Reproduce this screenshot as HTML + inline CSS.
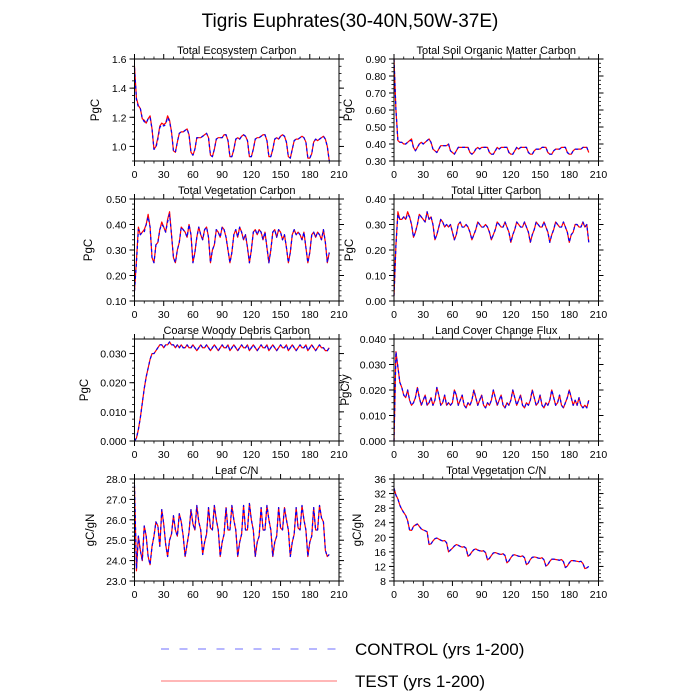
<!DOCTYPE html>
<html><head><meta charset="utf-8">
<style>
html,body{margin:0;padding:0;background:#fff;}
svg{display:block;font-family:"Liberation Sans",Arial,sans-serif;}
</style></head>
<body>
<svg id="chart" width="700" height="700" viewBox="0 0 700 700">
<text x="350" y="27" text-anchor="middle" font-size="19">Tigris Euphrates(30-40N,50W-37E)</text>
<g id="panels"></g>
<g>
<line x1="161" y1="649" x2="337" y2="649" stroke="#6f6fff" stroke-width="1" stroke-dasharray="8,10.5"/>
<text x="355" y="655" font-size="17">CONTROL (yrs 1-200)</text>
<line x1="161" y1="681" x2="337" y2="681" stroke="#ff6f6f" stroke-width="1"/>
<text x="355" y="687" font-size="17">TEST (yrs 1-200)</text>
</g>
</svg>
<script>
// years sampled every 2 years, 0..200
const xTicks = [0,30,60,90,120,150,180,210];

const tecControl = [1.54,1.32,1.27,1.26,1.19,1.17,1.16,1.19,1.20,1.12,
0.98,0.99,1.05,1.13,1.15,1.14,1.15,1.20,1.17,1.10,
0.97,0.96,1.03,1.09,1.10,1.10,1.11,1.12,1.08,0.96,
0.94,0.98,1.06,1.06,1.06,1.07,1.08,1.09,1.06,0.94,
0.93,0.98,1.05,1.06,1.06,1.06,1.08,1.08,1.04,0.93,
0.93,0.98,1.05,1.06,1.05,1.07,1.08,1.07,1.04,0.93,
0.93,0.98,1.05,1.06,1.06,1.07,1.08,1.08,1.04,0.93,
0.93,0.98,1.05,1.06,1.05,1.07,1.08,1.07,1.03,0.93,
0.92,0.98,1.04,1.05,1.05,1.06,1.07,1.06,1.03,0.92,
0.92,0.95,1.03,1.05,1.04,1.05,1.06,1.07,1.05,1.00,0.90];
const tecTest = [1.55,1.33,1.28,1.26,1.19,1.18,1.16,1.19,1.21,1.12,
0.98,1.00,1.06,1.14,1.16,1.15,1.16,1.21,1.18,1.10,
0.97,0.96,1.03,1.09,1.10,1.10,1.11,1.12,1.08,0.96,
0.94,0.98,1.06,1.06,1.06,1.07,1.08,1.09,1.06,0.94,
0.93,0.98,1.05,1.06,1.06,1.06,1.08,1.08,1.04,0.93,
0.93,0.98,1.05,1.06,1.05,1.07,1.08,1.07,1.04,0.93,
0.93,0.98,1.05,1.06,1.06,1.07,1.08,1.08,1.04,0.93,
0.93,0.98,1.05,1.06,1.05,1.07,1.08,1.07,1.03,0.93,
0.92,0.98,1.04,1.05,1.05,1.06,1.07,1.06,1.03,0.92,
0.92,0.95,1.03,1.05,1.04,1.05,1.06,1.07,1.05,1.00,0.90];

const somControl = [0.90,0.60,0.42,0.41,0.41,0.40,0.40,0.41,0.42,0.42,
0.38,0.36,0.38,0.40,0.41,0.40,0.41,0.42,0.43,0.41,
0.37,0.36,0.35,0.37,0.39,0.39,0.39,0.39,0.40,0.36,
0.35,0.34,0.36,0.38,0.38,0.38,0.38,0.38,0.38,0.35,
0.34,0.35,0.37,0.38,0.37,0.38,0.38,0.38,0.38,0.35,
0.34,0.34,0.36,0.38,0.37,0.38,0.38,0.38,0.38,0.35,
0.34,0.34,0.36,0.38,0.37,0.38,0.38,0.38,0.38,0.35,
0.34,0.34,0.36,0.37,0.37,0.37,0.38,0.38,0.38,0.35,
0.34,0.34,0.36,0.37,0.37,0.37,0.38,0.38,0.38,0.35,
0.34,0.34,0.36,0.37,0.37,0.37,0.37,0.38,0.38,0.38,0.35];
const somTest = [0.90,0.60,0.42,0.41,0.41,0.40,0.40,0.41,0.42,0.43,
0.38,0.36,0.38,0.40,0.41,0.40,0.41,0.42,0.43,0.41,
0.37,0.36,0.35,0.37,0.39,0.39,0.39,0.39,0.40,0.36,
0.35,0.34,0.36,0.38,0.38,0.38,0.38,0.38,0.38,0.35,
0.34,0.35,0.37,0.38,0.37,0.38,0.38,0.38,0.38,0.35,
0.34,0.34,0.36,0.38,0.37,0.38,0.38,0.38,0.38,0.35,
0.34,0.34,0.36,0.38,0.37,0.38,0.38,0.38,0.38,0.35,
0.34,0.34,0.36,0.37,0.37,0.37,0.38,0.38,0.38,0.35,
0.34,0.34,0.36,0.37,0.37,0.37,0.38,0.38,0.38,0.35,
0.34,0.34,0.36,0.37,0.37,0.37,0.37,0.38,0.38,0.38,0.35];

const vegControl = [0.14,0.25,0.38,0.36,0.37,0.37,0.40,0.43,0.39,0.27,
0.25,0.32,0.33,0.38,0.40,0.39,0.37,0.41,0.44,0.36,
0.27,0.25,0.30,0.33,0.39,0.38,0.37,0.35,0.40,0.36,
0.25,0.29,0.35,0.39,0.36,0.34,0.38,0.39,0.35,0.25,
0.30,0.32,0.38,0.37,0.35,0.39,0.38,0.35,0.30,0.25,
0.29,0.36,0.38,0.35,0.39,0.37,0.34,0.36,0.31,0.25,
0.30,0.37,0.38,0.36,0.38,0.37,0.34,0.37,0.31,0.25,
0.30,0.37,0.38,0.35,0.38,0.37,0.34,0.36,0.31,0.25,
0.29,0.36,0.38,0.36,0.37,0.36,0.34,0.37,0.31,0.25,
0.29,0.36,0.37,0.35,0.37,0.36,0.34,0.38,0.33,0.25,0.29];
const vegTest = [0.14,0.26,0.39,0.36,0.37,0.38,0.40,0.44,0.39,0.27,
0.25,0.32,0.33,0.38,0.41,0.39,0.37,0.42,0.45,0.36,
0.27,0.25,0.30,0.33,0.39,0.38,0.37,0.35,0.40,0.36,
0.25,0.29,0.35,0.39,0.36,0.34,0.38,0.39,0.35,0.25,
0.30,0.32,0.38,0.37,0.35,0.39,0.38,0.35,0.30,0.25,
0.29,0.36,0.38,0.35,0.39,0.37,0.34,0.36,0.31,0.25,
0.30,0.37,0.38,0.36,0.38,0.37,0.34,0.37,0.31,0.25,
0.30,0.37,0.38,0.35,0.38,0.37,0.34,0.36,0.31,0.25,
0.29,0.36,0.38,0.36,0.37,0.36,0.34,0.37,0.31,0.25,
0.29,0.36,0.37,0.35,0.37,0.36,0.34,0.38,0.33,0.25,0.29];

const litControl = [0.02,0.22,0.34,0.32,0.32,0.33,0.32,0.34,0.33,0.30,
0.25,0.27,0.30,0.34,0.33,0.32,0.31,0.35,0.32,0.33,
0.30,0.24,0.26,0.29,0.32,0.31,0.29,0.30,0.29,0.30,
0.27,0.24,0.26,0.30,0.31,0.29,0.29,0.30,0.29,0.27,
0.24,0.26,0.28,0.31,0.30,0.29,0.29,0.30,0.29,0.27,
0.24,0.26,0.28,0.31,0.30,0.29,0.29,0.31,0.29,0.27,
0.23,0.26,0.28,0.31,0.30,0.29,0.29,0.31,0.29,0.27,
0.23,0.26,0.28,0.31,0.30,0.29,0.29,0.31,0.29,0.27,
0.23,0.26,0.28,0.31,0.30,0.29,0.29,0.31,0.29,0.27,
0.23,0.26,0.27,0.30,0.30,0.29,0.29,0.31,0.29,0.30,0.23];
const litTest = [0.02,0.22,0.35,0.32,0.32,0.33,0.32,0.35,0.33,0.30,
0.25,0.27,0.30,0.34,0.33,0.32,0.31,0.35,0.32,0.33,
0.30,0.24,0.26,0.29,0.32,0.31,0.29,0.30,0.29,0.30,
0.27,0.24,0.26,0.30,0.31,0.29,0.29,0.30,0.29,0.27,
0.24,0.26,0.28,0.31,0.30,0.29,0.29,0.30,0.29,0.27,
0.24,0.26,0.28,0.31,0.30,0.29,0.29,0.31,0.29,0.27,
0.23,0.26,0.28,0.31,0.30,0.29,0.29,0.31,0.29,0.27,
0.23,0.26,0.28,0.31,0.30,0.29,0.29,0.31,0.29,0.27,
0.23,0.26,0.28,0.31,0.30,0.29,0.29,0.31,0.29,0.27,
0.23,0.26,0.27,0.30,0.30,0.29,0.29,0.31,0.29,0.30,0.23];

const cwdControl = [0.000,0.001,0.004,0.008,0.013,0.018,0.022,0.025,0.028,0.030,
0.030,0.031,0.032,0.033,0.033,0.032,0.033,0.033,0.034,0.033,
0.033,0.032,0.033,0.032,0.033,0.032,0.032,0.033,0.032,0.032,
0.033,0.032,0.031,0.032,0.033,0.032,0.032,0.033,0.032,0.031,
0.032,0.033,0.032,0.031,0.032,0.033,0.032,0.032,0.033,0.031,
0.032,0.033,0.032,0.031,0.032,0.033,0.032,0.032,0.033,0.031,
0.032,0.033,0.032,0.031,0.032,0.033,0.032,0.032,0.033,0.031,
0.032,0.033,0.032,0.031,0.032,0.033,0.032,0.032,0.033,0.031,
0.032,0.033,0.032,0.031,0.032,0.033,0.032,0.032,0.033,0.031,
0.032,0.033,0.032,0.031,0.032,0.033,0.032,0.032,0.031,0.031,0.032];
const cwdTest = [0.000,0.001,0.004,0.008,0.013,0.018,0.022,0.025,0.028,0.030,
0.030,0.031,0.032,0.033,0.033,0.032,0.033,0.033,0.034,0.033,
0.033,0.032,0.033,0.032,0.033,0.032,0.032,0.033,0.032,0.032,
0.033,0.032,0.031,0.032,0.033,0.032,0.032,0.033,0.032,0.031,
0.032,0.033,0.032,0.031,0.032,0.033,0.032,0.032,0.033,0.031,
0.032,0.033,0.032,0.031,0.032,0.033,0.032,0.032,0.033,0.031,
0.032,0.033,0.032,0.031,0.032,0.033,0.032,0.032,0.033,0.031,
0.032,0.033,0.032,0.031,0.032,0.033,0.032,0.032,0.033,0.031,
0.032,0.033,0.032,0.031,0.032,0.033,0.032,0.032,0.033,0.031,
0.032,0.033,0.032,0.031,0.032,0.033,0.032,0.032,0.031,0.031,0.032];

const lccControl = [0.000,0.035,0.029,0.023,0.021,0.018,0.017,0.020,0.016,0.014,
0.015,0.017,0.021,0.017,0.014,0.016,0.018,0.014,0.015,0.017,
0.014,0.016,0.021,0.018,0.014,0.015,0.018,0.014,0.015,0.014,
0.015,0.020,0.018,0.014,0.016,0.018,0.014,0.013,0.015,0.014,
0.016,0.020,0.017,0.014,0.016,0.018,0.014,0.013,0.015,0.014,
0.016,0.020,0.017,0.014,0.016,0.018,0.014,0.013,0.015,0.014,
0.016,0.020,0.017,0.014,0.016,0.018,0.014,0.013,0.015,0.014,
0.016,0.020,0.017,0.014,0.015,0.018,0.014,0.013,0.015,0.014,
0.016,0.020,0.017,0.014,0.015,0.018,0.014,0.013,0.015,0.017,
0.020,0.017,0.014,0.016,0.014,0.017,0.014,0.013,0.014,0.013,0.016];
const lccTest = [0.000,0.035,0.029,0.023,0.021,0.018,0.017,0.020,0.016,0.014,
0.015,0.017,0.021,0.017,0.014,0.016,0.018,0.014,0.015,0.017,
0.014,0.016,0.021,0.018,0.014,0.015,0.018,0.014,0.015,0.014,
0.015,0.020,0.018,0.014,0.016,0.018,0.014,0.013,0.015,0.014,
0.016,0.020,0.017,0.014,0.016,0.018,0.014,0.013,0.015,0.014,
0.016,0.020,0.017,0.014,0.016,0.018,0.014,0.013,0.015,0.014,
0.016,0.020,0.017,0.014,0.016,0.018,0.014,0.013,0.015,0.014,
0.016,0.020,0.017,0.014,0.015,0.018,0.014,0.013,0.015,0.014,
0.016,0.020,0.017,0.014,0.015,0.018,0.014,0.013,0.015,0.017,
0.020,0.017,0.014,0.016,0.014,0.017,0.014,0.013,0.014,0.013,0.016];

const leafControl = [27.7,23.6,25.2,24.5,24.0,25.7,25.2,24.2,23.8,24.7,
25.2,25.9,25.7,24.7,26.5,25.8,24.8,24.2,25.0,25.3,
26.2,25.5,25.2,26.3,25.9,25.2,24.2,24.8,25.4,26.5,
25.8,25.5,26.7,25.9,25.5,24.3,24.9,25.3,26.6,25.6,
25.5,26.7,26.0,25.5,24.2,24.9,25.3,26.6,25.5,25.5,
26.7,26.0,25.5,24.2,24.9,25.3,26.7,25.5,25.5,26.8,
26.0,25.5,24.2,24.9,25.2,26.6,25.5,25.5,26.7,26.0,
25.5,24.2,24.9,25.2,26.6,25.6,25.5,26.6,26.0,25.5,
24.2,24.9,25.3,26.6,25.6,25.5,26.7,26.0,25.5,24.2,
24.9,25.2,26.6,25.5,25.5,26.7,26.1,25.9,24.5,24.2,24.3];
const leafTest = [27.6,23.5,25.2,24.5,24.0,25.7,25.2,24.2,23.8,24.7,
25.2,25.9,25.7,24.7,26.5,25.8,24.8,24.2,25.0,25.3,
26.2,25.5,25.2,26.3,25.9,25.2,24.2,24.8,25.4,26.5,
25.8,25.5,26.7,25.9,25.5,24.3,24.9,25.3,26.6,25.6,
25.5,26.7,26.0,25.5,24.2,24.9,25.3,26.6,25.5,25.5,
26.7,26.0,25.5,24.2,24.9,25.3,26.7,25.5,25.5,26.8,
26.0,25.5,24.2,24.9,25.2,26.6,25.5,25.5,26.7,26.0,
25.5,24.2,24.9,25.2,26.6,25.6,25.5,26.6,26.0,25.5,
24.2,24.9,25.3,26.6,25.6,25.5,26.7,26.0,25.5,24.2,
24.9,25.2,26.6,25.5,25.5,26.7,26.1,25.9,24.5,24.2,24.3];

const vcnControl = [33.5,31.5,30.5,28.8,27.6,26.8,26.0,24.5,22.0,21.8,
23.0,23.3,23.6,23.0,22.3,22.0,21.8,21.5,18.0,18.2,
19.0,19.6,19.8,19.5,19.2,19.0,19.1,18.5,16.0,16.5,
17.0,17.6,18.0,17.8,17.5,17.3,17.4,17.0,14.8,15.2,
16.0,16.6,16.8,16.5,16.3,16.2,16.3,15.8,13.8,14.2,
15.0,15.7,15.8,15.6,15.4,15.3,15.5,15.0,13.0,13.5,
14.4,15.1,15.2,15.0,14.8,14.7,14.9,14.4,12.5,12.9,
13.9,14.5,14.6,14.5,14.3,14.2,14.4,13.8,12.1,12.5,
13.4,14.0,14.0,13.9,13.8,13.7,13.9,13.3,11.7,12.1,
13.0,13.6,13.6,13.5,13.4,13.3,13.4,12.8,11.4,11.6,12.0];
const vcnTest = [33.5,31.6,30.5,28.8,27.7,26.8,26.0,24.6,22.0,21.9,
23.0,23.4,23.7,23.0,22.3,22.0,21.8,21.5,18.0,18.2,
19.0,19.6,19.8,19.5,19.2,19.0,19.1,18.5,16.0,16.5,
17.0,17.6,18.0,17.8,17.5,17.3,17.4,17.0,14.8,15.2,
16.0,16.6,16.8,16.5,16.3,16.2,16.3,15.8,13.8,14.2,
15.0,15.7,15.8,15.6,15.4,15.3,15.5,15.0,13.0,13.5,
14.4,15.1,15.2,15.0,14.8,14.7,14.9,14.4,12.5,12.9,
13.9,14.5,14.6,14.5,14.3,14.2,14.4,13.8,12.1,12.5,
13.4,14.0,14.0,13.9,13.8,13.7,13.9,13.3,11.7,12.1,
13.0,13.6,13.6,13.5,13.4,13.3,13.4,12.8,11.4,11.6,12.0];

const panels = [
 {key:'total-ecosystem-carbon',title:'Total Ecosystem Carbon',unit:'PgC',col:0,row:0,ymin:0.9,ymax:1.6,ticks:[1.0,1.2,1.4,1.6],minor:0.05,dec:1,ctl:tecControl,tst:tecTest,ulx:99},
 {key:'total-soil-organic-matter-carbon',title:'Total Soil Organic Matter Carbon',unit:'PgC',col:1,row:0,ymin:0.3,ymax:0.9,ticks:[0.3,0.4,0.5,0.6,0.7,0.8,0.9],minor:0.025,dec:2,ctl:somControl,tst:somTest,ulx:352},
 {key:'total-vegetation-carbon',title:'Total Vegetation Carbon',unit:'PgC',col:0,row:1,ymin:0.1,ymax:0.5,ticks:[0.1,0.2,0.3,0.4,0.5],minor:0.02,dec:2,ctl:vegControl,tst:vegTest,ulx:92},
 {key:'total-litter-carbon',title:'Total Litter Carbon',unit:'PgC',col:1,row:1,ymin:0,ymax:0.4,ticks:[0,0.1,0.2,0.3,0.4],minor:0.02,dec:2,ctl:litControl,tst:litTest,ulx:353},
 {key:'coarse-woody-debris-carbon',title:'Coarse Woody Debris Carbon',unit:'PgC',col:0,row:2,ymin:0,ymax:0.035,ticks:[0,0.01,0.02,0.03],minor:0.0025,dec:3,ctl:cwdControl,tst:cwdTest,ulx:88},
 {key:'land-cover-change-flux',title:'Land Cover Change Flux',unit:'PgC/y',col:1,row:2,ymin:0,ymax:0.04,ticks:[0,0.01,0.02,0.03,0.04],minor:0.0025,dec:3,ctl:lccControl,tst:lccTest,ulx:349},
 {key:'leaf-cn',title:'Leaf C/N',unit:'gC/gN',col:0,row:3,ymin:23,ymax:28,ticks:[23,24,25,26,27,28],minor:0.2,dec:1,ctl:leafControl,tst:leafTest,ulx:94},
 {key:'total-vegetation-cn',title:'Total Vegetation C/N',unit:'gC/gN',col:1,row:3,ymin:8,ymax:36,ticks:[8,12,16,20,24,28,32,36],minor:1,dec:0,ctl:vcnControl,tst:vcnTest,ulx:361}
];

const NS='http://www.w3.org/2000/svg';
const root=document.getElementById('panels');
function mk(tag,attrs,parent){const e=document.createElementNS(NS,tag);for(const k in attrs)e.setAttribute(k,attrs[k]);parent.appendChild(e);return e;}

panels.forEach(p=>{
  const L = p.col===0?134.5:394, R=L+204.5;
  const T = 59+140*p.row, B=T+102;
  const xs = v=>L+(v-0)/(210-0)*(R-L);
  const ys = v=>B-(v-p.ymin)/(p.ymax-p.ymin)*(B-T);
  const g=mk('g',{},root);
  
  
  const t=mk('text',{x:(L+R)/2,y:T-5,'text-anchor':'middle','font-size':'11'},g);
  t.textContent=p.title;
  
  
  const yl=mk('text',{x:p.ulx,y:(T+B)/2,'text-anchor':'middle','font-size':'11.5',transform:'rotate(-90 '+p.ulx+' '+((T+B)/2)+')'},g);
  yl.textContent=p.unit;
  
  
  xTicks.forEach(v=>{
    const x=xs(v);
    mk('line',{x1:x,y1:B,x2:x,y2:B+5,stroke:'#000','stroke-width':1},g);
    mk('line',{x1:x,y1:T,x2:x,y2:T-5,stroke:'#000','stroke-width':1},g);
    const lb=mk('text',{x:x,y:B+17,'text-anchor':'middle','font-size':'10.5'},g);
    lb.textContent=String(v);
    
    
  });
  for(let v=10; v<210; v+=10){ if(v%30===0) continue; const x=xs(v);
    mk('line',{x1:x,y1:B,x2:x,y2:B+2.5,stroke:'#000','stroke-width':0.8},g);
    mk('line',{x1:x,y1:T,x2:x,y2:T-2.5,stroke:'#000','stroke-width':0.8},g);}
  const nMin=Math.round((p.ymax-p.ymin)/p.minor);
  for(let i=0;i<=nMin;i++){const y=ys(p.ymin+i*p.minor);
    mk('line',{x1:L,y1:y,x2:L-2.5,y2:y,stroke:'#000','stroke-width':0.8},g);
    mk('line',{x1:R,y1:y,x2:R+2.5,y2:y,stroke:'#000','stroke-width':0.8},g);}
  p.ticks.forEach(v=>{
    const y=ys(v);
    mk('line',{x1:L,y1:y,x2:L-5,y2:y,stroke:'#000','stroke-width':1},g);
    mk('line',{x1:R,y1:y,x2:R+5,y2:y,stroke:'#000','stroke-width':1},g);
    const lb=mk('text',{x:L-8,y:y+4,'text-anchor':'end','font-size':'10.5'},g);
    lb.textContent=v.toFixed(p.dec);
    
    
  });
  const toPath=arr=>arr.map((v,i)=>(i?'L':'M')+xs(i*2).toFixed(2)+','+ys(v).toFixed(2)).join('');
  const tl=mk('path',{d:toPath(p.tst),fill:'none',stroke:'#ff0000','stroke-width':1.2,'stroke-linejoin':'round'},g);
  
  
  const cl=mk('path',{d:toPath(p.ctl),fill:'none',stroke:'#0000ff','stroke-width':1.2,'stroke-dasharray':'3,3','stroke-linejoin':'round'},g);
  
  
  const fr=mk('rect',{x:L,y:T,width:R-L,height:B-T,fill:'none',stroke:'#000','stroke-width':1},g);
  
  
});
</script>
</body></html>
